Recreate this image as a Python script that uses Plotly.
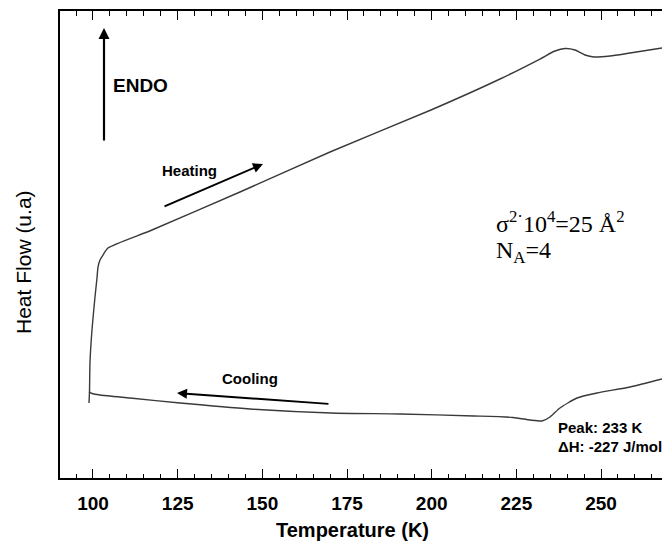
import plotly.graph_objects as go

# Heating curve (Temperature K, heat flow a.u.)
heat_T = [98.82, 98.97, 99.11, 99.70, 100.59, 101.18, 101.48, 102.07, 102.95, 104.43,
          117.42, 143.40, 169.97, 199.79, 220.17, 231.97, 236.40, 239.36, 242.31,
          245.26, 247.92, 252.65, 258.55, 268.0]
heat_Q = [16.06, 18.42, 24.63, 31.69, 38.76, 42.83, 45.18, 46.68, 47.75, 49.25,
          53.10, 61.24, 69.81, 78.80, 85.44, 89.72, 91.43, 91.97, 91.65,
          90.58, 90.15, 90.36, 91.01, 92.08]

# Cooling curve
cool_T = [98.82, 99.70, 102.07, 110.92, 125.69, 146.35, 170.27, 190.64, 212.49,
          224.00, 229.02, 232.57, 234.93, 237.88, 242.90, 248.81, 258.55, 268.0]
cool_Q = [18.42, 18.09, 17.77, 17.13, 16.06, 14.78, 13.92, 13.70, 13.28,
          12.96, 12.42, 12.21, 13.06, 14.99, 17.13, 18.20, 19.49, 21.20]

x_range = [90.26, 268.0]
y_range = [0, 100]
x_ticks = [100, 125, 150, 175, 200, 225, 250]

SANS = "Liberation Sans, Arial, sans-serif"
SERIF = "Liberation Serif, Times New Roman, serif"
CURVE = "#3a3a3a"

fig = go.Figure()
fig.add_trace(go.Scatter(x=heat_T, y=heat_Q, mode="lines",
                         line=dict(color=CURVE, width=1.4, shape="spline", smoothing=0.6),
                         showlegend=False, hoverinfo="skip"))
fig.add_trace(go.Scatter(x=cool_T, y=cool_Q, mode="lines",
                         line=dict(color=CURVE, width=1.4, shape="spline", smoothing=0.6),
                         showlegend=False, hoverinfo="skip"))
# invisible trace to carry the top axis
fig.add_trace(go.Scatter(x=[x_range[0]], y=[y_range[0]], xaxis="x2", mode="markers",
                         marker=dict(opacity=0), showlegend=False, hoverinfo="skip"))

ann = []
ann.append(dict(x=103.25, y=96.36, ax=103.25, ay=71.95, xref="x", yref="y", axref="x", ayref="y",
                showarrow=True, arrowhead=2, arrowsize=1, arrowwidth=2.2, arrowcolor="black", text=""))
ann.append(dict(x=105.3, y=84.15, xref="x", yref="y", text="<b>ENDO</b>", showarrow=False,
                xanchor="left", yanchor="middle", font=dict(family=SANS, size=19, color="black")))
ann.append(dict(x=150.19, y=67.24, ax=120.67, ay=58.03, xref="x", yref="y", axref="x", ayref="y",
                showarrow=True, arrowhead=2, arrowsize=1, arrowwidth=2, arrowcolor="black", text=""))
ann.append(dict(x=128.64, y=65.95, xref="x", yref="y", text="<b>Heating</b>", showarrow=False,
                xanchor="center", yanchor="middle", font=dict(family=SANS, size=15, color="black")))
ann.append(dict(x=124.80, y=18.20, ax=169.97, ay=15.85, xref="x", yref="y", axref="x", ayref="y",
                showarrow=True, arrowhead=2, arrowsize=1, arrowwidth=2, arrowcolor="black", text=""))
ann.append(dict(x=146.35, y=21.41, xref="x", yref="y", text="<b>Cooling</b>", showarrow=False,
                xanchor="center", yanchor="middle", font=dict(family=SANS, size=15, color="black")))
ann.append(dict(x=236.7, y=10.71, xref="x", yref="y", text="<b>Peak: 233 K</b>", showarrow=False,
                xanchor="left", yanchor="middle", font=dict(family=SANS, size=15, color="black")))
ann.append(dict(x=236.7, y=6.85, xref="x", yref="y", text="<b>\u0394H: -227 J/mol</b>", showarrow=False,
                xanchor="left", yanchor="middle", font=dict(family=SANS, size=15, color="black")))
ann.append(dict(x=218.4, y=54.82, xref="x", yref="y",
                text="\u03c3<sup>2\u00b7</sup>10<sup>4</sup>=25 \u00c5<sup>2</sup>", showarrow=False,
                xanchor="left", yanchor="middle", font=dict(family=SERIF, size=24, color="black")))
ann.append(dict(x=218.4, y=48.39, xref="x", yref="y",
                text="N<sub>A</sub>=4", showarrow=False,
                xanchor="left", yanchor="middle", font=dict(family=SERIF, size=24, color="black")))
ann.append(dict(x=-0.0615, y=0.4625, xref="paper", yref="paper", text="Heat Flow (u.a)",
                textangle=-90, showarrow=False, xanchor="center", yanchor="middle",
                font=dict(family=SANS, size=21, color="black")))
ann.append(dict(x=0.4867, y=-0.111, xref="paper", yref="paper", text="<b>Temperature (K)</b>",
                showarrow=False, xanchor="center", yanchor="middle",
                font=dict(family=SANS, size=20, color="black")))

minor_ticks = dict(dtick=5, tick0=0, ticks="inside", ticklen=4, tickwidth=1.2, tickcolor="black")

fig.update_layout(
    width=662, height=547,
    margin=dict(l=60, r=0, t=11, b=69),
    paper_bgcolor="white", plot_bgcolor="white",
    annotations=ann,
    xaxis=dict(range=x_range, tickvals=x_ticks, ticktext=[str(v) for v in x_ticks],
               ticks="inside", ticklen=9, tickwidth=1.3, tickcolor="black",
               minor=minor_ticks, ticklabelstandoff=7,
               showline=True, linecolor="black", linewidth=1.6, mirror=True,
               showgrid=False, zeroline=False,
               tickfont=dict(family=SANS, size=19, color="black", weight="bold")),
    xaxis2=dict(range=x_range, overlaying="x", side="top", anchor="y",
                tickvals=x_ticks, ticks="inside", ticklen=9, tickwidth=1.3, tickcolor="black",
                minor=dict(dtick=5, tick0=0, ticks="inside", ticklen=5, tickwidth=1.2, tickcolor="black"),
                showticklabels=False,
                showline=True, linecolor="black", linewidth=1.6,
                showgrid=False, zeroline=False),
    yaxis=dict(range=y_range, showline=True, linecolor="black", linewidth=1.6, mirror=False,
               showticklabels=False, ticks="", showgrid=False, zeroline=False),
)

fig.write_html("out.html")
